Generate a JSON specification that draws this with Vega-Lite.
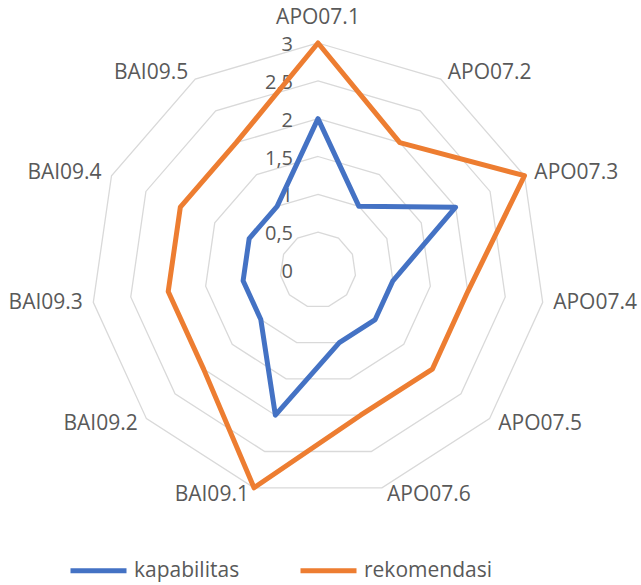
{
  "$schema": "https://vega.github.io/schema/vega-lite/v6.json",
  "width": 641,
  "height": 585,
  "padding": 0,
  "autosize": {"type": "none"},
  "background": "white",
  "config": {"view": {"stroke": null}, "font": "Open Sans"},
  "datasets": {
    "scores": [
      {"axis": "APO07.1", "k": 0, "kapabilitas": 2, "rekomendasi": 3},
      {"axis": "APO07.2", "k": 1, "kapabilitas": 1, "rekomendasi": 2},
      {"axis": "APO07.3", "k": 2, "kapabilitas": 2, "rekomendasi": 3},
      {"axis": "APO07.4", "k": 3, "kapabilitas": 1, "rekomendasi": 2},
      {"axis": "APO07.5", "k": 4, "kapabilitas": 1, "rekomendasi": 2},
      {"axis": "APO07.6", "k": 5, "kapabilitas": 1, "rekomendasi": 2},
      {"axis": "BAI09.1", "k": 6, "kapabilitas": 2, "rekomendasi": 3},
      {"axis": "BAI09.2", "k": 7, "kapabilitas": 1, "rekomendasi": 2},
      {"axis": "BAI09.3", "k": 8, "kapabilitas": 1, "rekomendasi": 2},
      {"axis": "BAI09.4", "k": 9, "kapabilitas": 1, "rekomendasi": 2},
      {"axis": "BAI09.5", "k": 10, "kapabilitas": 1, "rekomendasi": 2}
    ],
    "rings": [
      {"level": 0.5, "k": [0, 1, 2, 3, 4, 5, 6, 7, 8, 9, 10]},
      {"level": 1, "k": [0, 1, 2, 3, 4, 5, 6, 7, 8, 9, 10]},
      {"level": 1.5, "k": [0, 1, 2, 3, 4, 5, 6, 7, 8, 9, 10]},
      {"level": 2, "k": [0, 1, 2, 3, 4, 5, 6, 7, 8, 9, 10]},
      {"level": 2.5, "k": [0, 1, 2, 3, 4, 5, 6, 7, 8, 9, 10]},
      {"level": 3, "k": [0, 1, 2, 3, 4, 5, 6, 7, 8, 9, 10]}
    ],
    "ticks": [
      {"t": 0, "label": "0"},
      {"t": 0.5, "label": "0,5"},
      {"t": 1, "label": "1"},
      {"t": 1.5, "label": "1,5"},
      {"t": 2, "label": "2"},
      {"t": 2.5, "label": "2,5"},
      {"t": 3, "label": "3"}
    ]
  },
  "layer": [
    {
      "data": {"name": "rings"},
      "transform": [
        {"flatten": ["k"]},
        {"calculate": "datum.k * 2 * PI / 11", "as": "a"},
        {"calculate": "datum.level * sin(datum.a)", "as": "px"},
        {"calculate": "datum.level * cos(datum.a)", "as": "py"}
      ],
      "mark": {"type": "line", "interpolate": "linear-closed", "stroke": "#d9d9d9", "strokeWidth": 1.3},
      "encoding": {
        "x": {"field": "px", "type": "quantitative", "scale": {"domain": [-4.2026, 4.2687], "nice": false, "zero": false}, "axis": null},
        "y": {"field": "py", "type": "quantitative", "scale": {"domain": [-4.163, 3.5683], "nice": false, "zero": false}, "axis": null},
        "detail": {"field": "level", "type": "nominal"},
        "order": {"field": "k", "type": "quantitative"}
      }
    },
    {
      "data": {"name": "ticks"},
      "mark": {"type": "text", "align": "right", "baseline": "middle", "dx": -25, "dy": 2, "fontSize": 20, "fill": "#595959", "font": "Open Sans"},
      "encoding": {
        "x": {"datum": 0, "type": "quantitative"},
        "y": {"field": "t", "type": "quantitative"},
        "text": {"field": "label"}
      }
    },
    {
      "data": {"name": "scores"},
      "transform": [
        {"fold": ["kapabilitas", "rekomendasi"], "as": ["series", "value"]},
        {"calculate": "datum.k * 2 * PI / 11", "as": "a"},
        {"calculate": "datum.value * sin(datum.a)", "as": "px"},
        {"calculate": "datum.value * cos(datum.a)", "as": "py"}
      ],
      "mark": {"type": "line", "interpolate": "linear-closed", "strokeWidth": 5, "strokeJoin": "round"},
      "encoding": {
        "x": {"field": "px", "type": "quantitative"},
        "y": {"field": "py", "type": "quantitative"},
        "order": {"field": "k", "type": "quantitative"},
        "color": {
          "field": "series",
          "type": "nominal",
          "scale": {"domain": ["kapabilitas", "rekomendasi"], "range": ["#4472C4", "#ED7D31"]},
          "legend": {
            "orient": "none",
            "legendX": 68,
            "legendY": 540,
            "direction": "horizontal",
            "title": null,
            "symbolType": "stroke",
            "symbolSize": 3136,
            "symbolStrokeWidth": 5,
            "labelFontSize": 21,
            "labelColor": "#595959",
            "labelFont": "Open Sans",
            "labelOffset": 5,
            "columnPadding": 50,
            "padding": 0
          }
        }
      }
    },
    {
      "data": {"name": "scores"},
      "transform": [
        {"calculate": "datum.k * 2 * PI / 11", "as": "a"},
        {"calculate": "3.1 * sin(datum.a)", "as": "lx"},
        {"calculate": "3.1 * cos(datum.a)", "as": "ly"},
        {"filter": "sin(datum.a) > 0.05"}
      ],
      "mark": {"type": "text", "align": "left", "baseline": "middle", "dx": 3, "fontSize": 21, "fill": "#595959", "font": "Open Sans"},
      "encoding": {
        "x": {"field": "lx", "type": "quantitative"},
        "y": {"field": "ly", "type": "quantitative"},
        "text": {"field": "axis"}
      }
    },
    {
      "data": {"name": "scores"},
      "transform": [
        {"calculate": "datum.k * 2 * PI / 11", "as": "a"},
        {"calculate": "3.1 * sin(datum.a)", "as": "lx"},
        {"calculate": "3.1 * cos(datum.a)", "as": "ly"},
        {"filter": "sin(datum.a) < -0.05"}
      ],
      "mark": {"type": "text", "align": "right", "baseline": "middle", "dx": -3, "fontSize": 21, "fill": "#595959", "font": "Open Sans"},
      "encoding": {
        "x": {"field": "lx", "type": "quantitative"},
        "y": {"field": "ly", "type": "quantitative"},
        "text": {"field": "axis"}
      }
    },
    {
      "data": {"name": "scores"},
      "transform": [
        {"calculate": "datum.k * 2 * PI / 11", "as": "a"},
        {"calculate": "3.1 * sin(datum.a)", "as": "lx"},
        {"calculate": "3.1 * cos(datum.a)", "as": "ly"},
        {"filter": "abs(sin(datum.a)) <= 0.05"}
      ],
      "mark": {"type": "text", "align": "center", "baseline": "middle", "dy": -17, "fontSize": 21, "fill": "#595959", "font": "Open Sans"},
      "encoding": {
        "x": {"field": "lx", "type": "quantitative"},
        "y": {"field": "ly", "type": "quantitative"},
        "text": {"field": "axis"}
      }
    }
  ]
}
